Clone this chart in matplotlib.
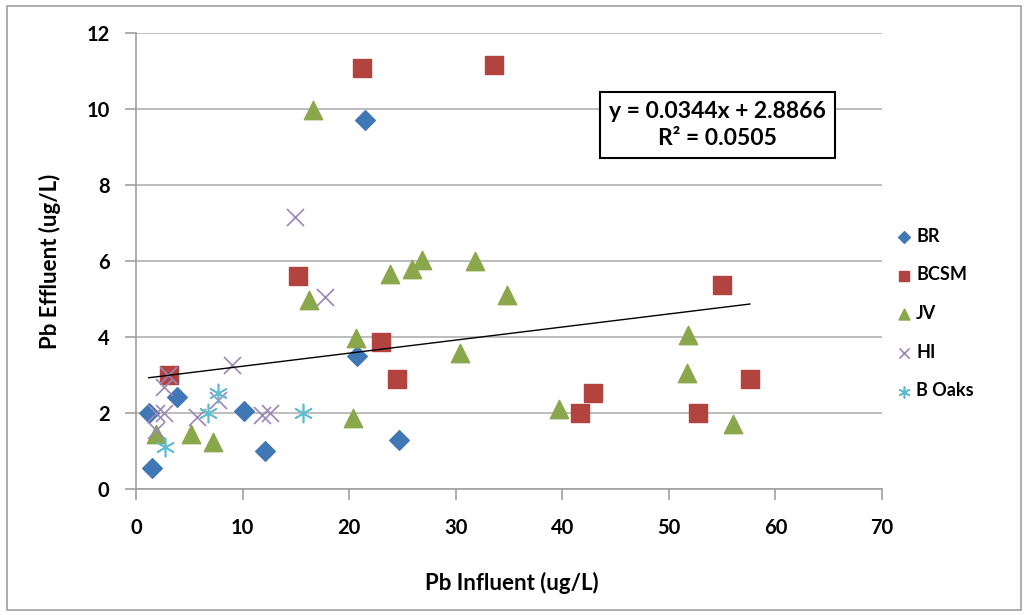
import matplotlib
matplotlib.use("Agg")
from matplotlib import pyplot as plt
from matplotlib.patches import Rectangle

plt.rcParams["font.family"] = ["Lato", "DejaVu Sans"]

# Pb influent (x) and effluent (y), ug/L
br_x = [1.2, 3.8, 10.1, 12.1, 1.5, 21.5, 20.7, 24.7]
br_y = [2.0, 2.43, 2.05, 1.0, 0.56, 9.7, 3.5, 1.28]

bcsm_x = [3.1, 21.2, 33.6, 15.2, 23.0, 24.5, 41.7, 42.9, 52.7, 55.0, 57.6]
bcsm_y = [3.0, 11.08, 11.16, 5.6, 3.87, 2.9, 2.0, 2.53, 2.0, 5.37, 2.9]

jv_x = [1.9, 5.2, 7.25, 16.6, 16.2, 23.8, 25.9, 26.8, 31.8, 34.8, 20.6, 30.4,
        20.4, 39.7, 51.8, 51.7, 56.0]
jv_y = [1.46, 1.46, 1.24, 9.97, 4.97, 5.66, 5.79, 6.03, 6.0, 5.1, 3.97, 3.58,
        1.88, 2.1, 4.05, 3.06, 1.71]

hi_x = [14.9, 17.7, 9.0, 3.0, 2.6, 1.9, 2.6, 5.7, 7.7, 11.8, 12.6, 1.9]
hi_y = [7.17, 5.06, 3.26, 3.0, 2.68, 2.0, 2.0, 1.89, 2.34, 1.95, 1.99, 1.55]

boaks_x = [7.7, 6.8, 15.7, 2.7]
boaks_y = [2.52, 1.99, 1.99, 1.11]

slope = 0.0344
intercept = 2.8866
r2 = 0.0505

fig = plt.figure(figsize=(10.28, 6.15), dpi=100)
ax = fig.add_axes([0.1323, 0.2049, 0.7257, 0.7414])

ax.scatter(br_x, br_y, marker="D", s=100, color="#4077b5", label="BR", zorder=3)
ax.scatter(bcsm_x, bcsm_y, marker="s", s=155, color="#b3433f", label="BCSM", zorder=3)
ax.scatter(jv_x, jv_y, marker="^", s=175, color="#8aa84b", label="JV", zorder=3)
ax.scatter(hi_x, hi_y, marker="x", s=150, color="#9a86bb", linewidths=1.2,
           label="HI", zorder=3)
ax.scatter(boaks_x, boaks_y, marker=(6, 2, 0), s=170, color="#5fbcd3",
           linewidths=1.2, label="B Oaks", zorder=3)

# linear trendline over the full data range
all_x = br_x + bcsm_x + jv_x + hi_x + boaks_x
x0, x1 = min(all_x), max(all_x)
ax.plot([x0, x1], [slope * x0 + intercept, slope * x1 + intercept],
        color="black", linewidth=1, zorder=4)

ax.set_xlim(0, 70)
ax.set_ylim(0, 12)
ax.set_xticks(range(0, 71, 10))
ax.set_yticks(range(0, 13, 2))
ax.grid(axis="y", color="#b8b8b8", linewidth=1.3)
ax.set_axisbelow(True)
for side in ["top", "right"]:
    ax.spines[side].set_visible(False)
for side in ["left", "bottom"]:
    ax.spines[side].set_color("#a0a0a0")
    ax.spines[side].set_linewidth(1.2)
ax.tick_params(axis="both", colors="#a0a0a0", length=8, width=1.2,
               labelcolor="black", labelsize=14.5)
ax.tick_params(axis="x", pad=13)
ax.tick_params(axis="y", pad=11)
for lbl in ax.get_xticklabels() + ax.get_yticklabels():
    lbl.set_fontweight("bold")

ax.set_xlabel("Pb Influent (ug/L)", fontsize=16, fontweight="bold")
ax.set_ylabel("Pb Effluent (ug/L)", fontsize=16, fontweight="bold")
ax.xaxis.set_label_coords(0.504, -0.183)
ax.yaxis.set_label_coords(-0.10, 0.5)

leg = ax.legend(loc="center left", bbox_to_anchor=(0.995, 0.385), frameon=False,
                prop={"weight": "bold", "size": 13}, labelspacing=1.2,
                handletextpad=0.2, handlelength=1.0, markerscale=0.6)

fig.text(0.698, 0.797, f"y = {slope}x + {intercept}\nR² = {r2}", ha="center",
         va="center", fontsize=16.5, fontweight="bold", linespacing=1.35,
         bbox=dict(boxstyle="square,pad=0.38", facecolor="white",
                   edgecolor="black", linewidth=1.5))

fig.patches.append(Rectangle((0.007, 0.008), 0.986, 0.982, transform=fig.transFigure,
                             fill=False, edgecolor="#a0a0a0", linewidth=1.2))

fig.savefig("out.png", dpi=100)
plt.close()
